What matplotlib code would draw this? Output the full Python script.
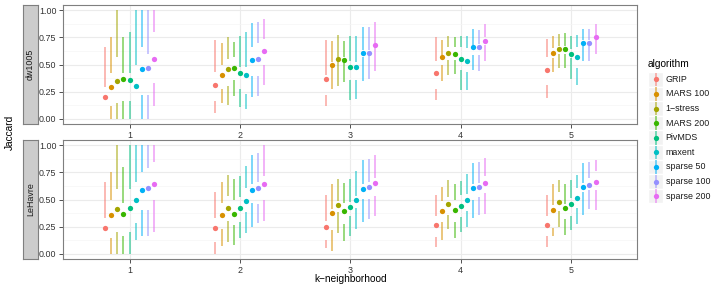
import matplotlib
matplotlib.use("Agg")
import matplotlib.pyplot as plt
from matplotlib.patches import Rectangle

plt.rcParams['font.family'] = ['Liberation Sans', 'DejaVu Sans']

# data: rows = k (1..5), columns = algorithm
algorithms = ['GRIP', 'MARS 100', '1\u2212stress', 'MARS 200', 'PivMDS',
              'maxent', 'sparse 50', 'sparse 100', 'sparse 200']
colors = ['#F8766D', '#D89000', '#A3A500', '#39B600', '#00BF7D',
          '#00BFC4', '#00B0F6', '#9590FF', '#E76BF3']
k_values = [1, 2, 3, 4, 5]
facets = ['dw1005', 'LeHavre']

dw_lo = [[0.20, 0.00, 0.00, 0.00, 0.00, 0.30, 0.00, 0.00, 0.12],
         [0.05, 0.14, 0.13, 0.21, 0.11, 0.09, 0.20, 0.21, 0.31],
         [0.12, 0.27, 0.30, 0.34, 0.17, 0.18, 0.35, 0.37, 0.44],
         [0.17, 0.35, 0.40, 0.41, 0.26, 0.26, 0.45, 0.44, 0.53],
         [0.19, 0.43, 0.465, 0.465, 0.365, 0.31, 0.53, 0.53, 0.60]]
dw_q1 = [[0.20, 0.12, 0.14, 0.16, 0.16, 0.30, 0.22, 0.22, 0.33],
         [0.16, 0.27, 0.30, 0.36, 0.27, 0.23, 0.39, 0.39, 0.50],
         [0.22, 0.48, 0.53, 0.51, 0.36, 0.36, 0.57, 0.59, 0.66],
         [0.27, 0.50, 0.54, 0.54, 0.45, 0.43, 0.59, 0.59, 0.68],
         [0.31, 0.56, 0.60, 0.60, 0.56, 0.47, 0.67, 0.67, 0.73]]
dw_med = [[0.20, 0.29, 0.35, 0.37, 0.36, 0.30, 0.46, 0.47, 0.55],
          [0.31, 0.40, 0.455, 0.465, 0.42, 0.40, 0.54, 0.55, 0.625],
          [0.37, 0.50, 0.55, 0.545, 0.48, 0.48, 0.61, 0.61, 0.68],
          [0.42, 0.57, 0.61, 0.60, 0.55, 0.53, 0.66, 0.66, 0.72],
          [0.45, 0.61, 0.645, 0.645, 0.60, 0.57, 0.70, 0.70, 0.75]]
dw_q3 = [[0.29, 0.42, 0.57, 0.42, 0.42, 0.50, 0.66, 0.60, 0.80],
         [0.43, 0.50, 0.55, 0.57, 0.48, 0.48, 0.66, 0.70, 0.74],
         [0.40, 0.52, 0.57, 0.57, 0.53, 0.52, 0.63, 0.63, 0.70],
         [0.535, 0.59, 0.66, 0.66, 0.66, 0.65, 0.68, 0.69, 0.75],
         [0.57, 0.65, 0.67, 0.67, 0.64, 0.66, 0.73, 0.73, 0.77]]
dw_hi = [[0.66, 0.75, 1.00, 0.75, 0.80, 1.00, 1.00, 1.00, 1.00],
         [0.73, 0.70, 0.75, 0.71, 0.76, 0.80, 0.88, 0.89, 0.92],
         [0.73, 0.72, 0.77, 0.72, 0.76, 0.76, 0.85, 0.85, 0.89],
         [0.75, 0.73, 0.76, 0.75, 0.76, 0.76, 0.83, 0.82, 0.87],
         [0.74, 0.76, 0.78, 0.79, 0.76, 0.77, 0.83, 0.83, 0.87]]

lh_lo = [[0.24, 0.00, 0.00, 0.00, 0.00, 0.125, 0.16, 0.16, 0.20],
         [0.00, 0.07, 0.11, 0.08, 0.14, 0.19, 0.25, 0.28, 0.30],
         [0.05, 0.02, 0.19, 0.12, 0.16, 0.23, 0.29, 0.32, 0.345],
         [0.06, 0.13, 0.23, 0.14, 0.20, 0.25, 0.33, 0.36, 0.37],
         [0.06, 0.16, 0.25, 0.17, 0.22, 0.27, 0.36, 0.41, 0.40]]
lh_q1 = [[0.24, 0.14, 0.20, 0.16, 0.20, 0.28, 0.40, 0.40, 0.50],
         [0.11, 0.23, 0.30, 0.26, 0.29, 0.38, 0.47, 0.46, 0.50],
         [0.13, 0.22, 0.38, 0.27, 0.345, 0.42, 0.505, 0.505, 0.535],
         [0.15, 0.29, 0.36, 0.29, 0.34, 0.39, 0.50, 0.52, 0.56],
         [0.16, 0.24, 0.39, 0.32, 0.35, 0.42, 0.57, 0.59, 0.59]]
lh_med = [[0.24, 0.355, 0.41, 0.37, 0.42, 0.50, 0.585, 0.61, 0.645],
          [0.24, 0.36, 0.425, 0.37, 0.42, 0.49, 0.59, 0.61, 0.645],
          [0.25, 0.375, 0.445, 0.39, 0.43, 0.50, 0.60, 0.615, 0.65],
          [0.26, 0.39, 0.46, 0.405, 0.44, 0.50, 0.605, 0.62, 0.655],
          [0.265, 0.405, 0.48, 0.42, 0.455, 0.51, 0.615, 0.635, 0.665]]
lh_q3 = [[0.33, 0.50, 0.60, 0.47, 0.60, 0.66, 0.75, 0.795, 0.85],
         [0.33, 0.47, 0.53, 0.50, 0.52, 0.61, 0.64, 0.66, 0.72],
         [0.30, 0.41, 0.49, 0.47, 0.48, 0.53, 0.64, 0.66, 0.70],
         [0.35, 0.49, 0.52, 0.50, 0.54, 0.55, 0.64, 0.65, 0.72],
         [0.35, 0.45, 0.565, 0.46, 0.51, 0.61, 0.65, 0.70, 0.76]]
lh_hi = [[0.66, 0.75, 1.00, 0.80, 1.00, 1.00, 1.00, 1.00, 1.00],
         [0.57, 0.66, 0.73, 0.69, 0.72, 0.81, 0.91, 0.93, 1.00],
         [0.54, 0.64, 0.69, 0.65, 0.69, 0.76, 0.865, 0.875, 0.91],
         [0.54, 0.62, 0.68, 0.64, 0.67, 0.74, 0.84, 0.85, 0.88],
         [0.54, 0.64, 0.68, 0.64, 0.68, 0.73, 0.835, 0.845, 0.865]]

facet_data = {
    'dw1005': (dw_lo, dw_q1, dw_med, dw_q3, dw_hi),
    'LeHavre': (lh_lo, lh_q1, lh_med, lh_q3, lh_hi),
}

W, H = 723, 289
fig = plt.figure(figsize=(W / 100, H / 100), dpi=100)

border = '#7F7F7F'
grid_major = '#EBEBEB'
grid_minor = '#F5F5F5'
line_alpha = 0.65
n = len(algorithms)
dodge = 0.5

panel_left, panel_right = 63.3, 637.3
panels_y = [(5, 124), (140, 259)]

for f, facet in enumerate(facets):
    top, bottom = panels_y[f]
    ax = fig.add_axes([panel_left / W, 1 - bottom / H,
                       (panel_right - panel_left) / W, (bottom - top) / H])
    lo, q1, med, q3, hi = facet_data[facet]

    ax.set_xlim(0.4, 5.6)
    ax.set_ylim(-0.05, 1.05)
    ax.set_xticks(k_values)
    ax.set_xticklabels([str(k) for k in k_values])
    ax.set_yticks([0, 0.25, 0.5, 0.75, 1.0])
    ax.set_yticklabels(['0.00', '0.25', '0.50', '0.75', '1.00'])
    ax.set_yticks([0.125, 0.375, 0.625, 0.875], minor=True)
    ax.grid(True, which='major', color=grid_major, lw=0.8, zorder=0)
    ax.grid(True, which='minor', axis='y', color=grid_minor, lw=0.5, zorder=0)
    ax.set_axisbelow(True)
    ax.tick_params(axis='both', which='major', length=3, width=0.6, color='#333333',
                   labelsize=6.4, labelcolor='#333333', pad=2)
    ax.tick_params(axis='y', which='minor', length=0)
    for s in ax.spines.values():
        s.set_color(border)
        s.set_linewidth(0.8)

    for ki, k in enumerate(k_values):
        for i in range(n):
            x = k - dodge / 2 + dodge / n * (i + 0.5)
            c = colors[i]
            if q1[ki][i] > lo[ki][i]:
                ax.vlines(x, lo[ki][i], q1[ki][i], color=c, lw=1.1,
                          alpha=line_alpha, zorder=2)
            if hi[ki][i] > q3[ki][i]:
                ax.vlines(x, q3[ki][i], hi[ki][i], color=c, lw=1.1,
                          alpha=line_alpha, zorder=2)
            ax.plot(x, med[ki][i], 'o', color=c, ms=3.8, mec='none', zorder=3)

    # strip on the left
    sax = fig.add_axes([22.7 / W, 1 - bottom / H, 15.6 / W, (bottom - top) / H])
    sax.set_xticks([])
    sax.set_yticks([])
    sax.set_facecolor('#CCCCCC')
    for s in sax.spines.values():
        s.set_color(border)
        s.set_linewidth(0.8)
    sax.text(0.5, 0.5, facet, rotation=90, ha='center', va='center',
             fontsize=6.4, color='#1A1A1A', transform=sax.transAxes)

fig.text(10 / W, 1 - 132 / H, 'Jaccard', rotation=90, ha='center', va='center',
         fontsize=7.3)
fig.text((panel_left + panel_right) / 2 / W, 1 - 279 / H, 'k\u2212neighborhood',
         ha='center', va='center', fontsize=7.3)

# legend
key_h = 14.6
key_w = 15
leg_top = 72
lax = fig.add_axes([648 / W, 1 - (leg_top + n * key_h) / H,
                    key_w / W, n * key_h / H])
lax.set_xlim(0, key_w)
lax.set_ylim(n * key_h, 0)
lax.axis('off')
for i, (name, c) in enumerate(zip(algorithms, colors)):
    y0 = i * key_h
    lax.add_patch(Rectangle((0, y0), key_w, key_h, facecolor='#F2F2F2',
                            edgecolor='white', lw=1.0))
    lax.vlines(key_w / 2, y0 + 0.5, y0 + key_h - 0.5, color=c, lw=1.1,
               alpha=line_alpha)
    lax.plot(key_w / 2, y0 + key_h / 2, 'o', color=c, ms=3.8, mec='none')
    lax.text(key_w + 2.5, y0 + key_h / 2, name, ha='left', va='center',
             fontsize=6.4, color='#1A1A1A', clip_on=False)
fig.text(648 / W, 1 - 64 / H, 'algorithm', ha='left', va='center', fontsize=7.3)

fig.savefig('out.png', dpi=100)
